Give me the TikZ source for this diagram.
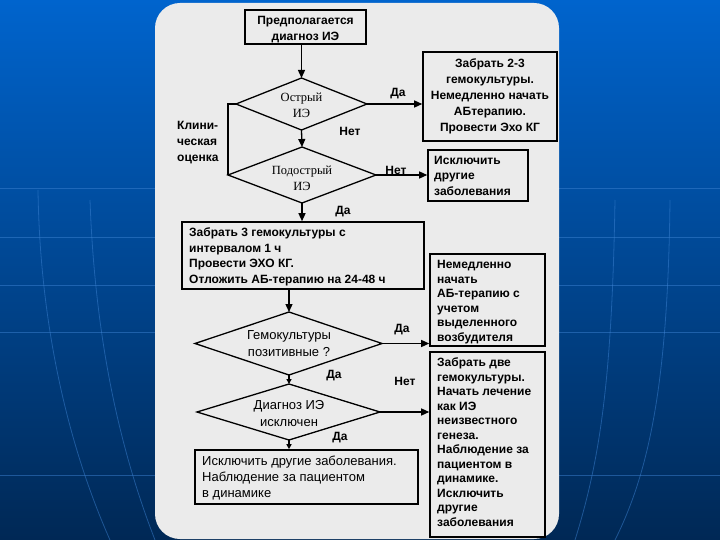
\documentclass[tikz,border=0pt]{standalone}
\usepackage{fontspec}
\setmainfont{Liberation Sans}
\newfontfamily\serifru{Liberation Serif}
\usetikzlibrary{arrows.meta}
\definecolor{bgtop}{RGB}{0,100,205}
\definecolor{bgbot}{RGB}{0,40,85}
\definecolor{panel}{RGB}{235,235,235}
\definecolor{faint}{RGB}{60,130,210}
\tikzset{
  boxc/.style={draw=black,line width=1.6pt,fill=panel,inner sep=0pt,align=center,
    font=\bfseries\fontsize{12}{16}\selectfont},
  boxl/.style={draw=black,line width=1.6pt,fill=panel,inner sep=0pt},
  txl/.style={anchor=west,align=left,inner sep=0pt},
  dia/.style={draw=black,line width=1.3pt},
  dtxt/.style={inner sep=0pt,align=center},
  arr/.style={line width=1.3pt,-{Triangle[length=8pt,width=7pt]}},
  arrs/.style={line width=1.3pt,-{Triangle[length=5pt,width=5pt]}},
  lab/.style={font=\bfseries\fontsize{12}{14}\selectfont,inner sep=0pt},
}
\begin{document}
\begin{tikzpicture}[x=1pt,y=-1pt]
\useasboundingbox (0,0) rectangle (720,540);
\shade[top color=bgtop,bottom color=bgbot] (0,0) rectangle (720,540);
\foreach \yy in {188,237,285,332,475}
  \draw[faint,opacity=0.5,line width=0.6pt] (0,\yy) -- (720,\yy);
\draw[faint,opacity=0.5,line width=0.8pt] (38,190) .. controls (40,330) and (70,450) .. (110,540);
\draw[faint,opacity=0.5,line width=0.8pt] (90,200) .. controls (95,340) and (120,450) .. (155,540);
\draw[faint,opacity=0.5,line width=0.8pt] (615,200) .. controls (612,380) and (600,460) .. (575,540);
\draw[faint,opacity=0.5,line width=0.8pt] (670,200) .. controls (668,380) and (650,470) .. (615,540);
\fill[panel,rounded corners=25pt] (155,3) rectangle (559,539);

% boxes
\node[boxl,minimum width=121pt,minimum height=34pt] (b1) at (305.5,27) {};
\node[dtxt,font=\bfseries\fontsize{12}{16}\selectfont] (t1) at (305.5,29.5)
  {Предполагается\\диагноз ИЭ};
\node[boxc,minimum width=134pt,minimum height=89pt] (b2) at (490,96.5)
  {Забрать 2-3\\гемокультуры.\\Немедленно начать\\АБтерапию.\\Провести Эхо КГ};
\node[boxl,minimum width=100pt,minimum height=51pt] (b3) at (478,175.5) {};
\node[txl,font=\bfseries\fontsize{12}{15.5}\selectfont] (t3) at (434,175.5)
  {Исключить\\другие\\заболевания};
\node[boxl,minimum width=242pt,minimum height=67pt] (b4) at (303,255.5) {};
\node[txl,font=\bfseries\fontsize{12}{15.6}\selectfont] (t4) at (189,257)
  {Забрать 3 гемокультуры с\\интервалом 1 ч\\Провести ЭХО КГ.\\Отложить АБ-терапию на 24-48 ч};
\node[boxl,minimum width=115pt,minimum height=92pt] (b5) at (487.5,300) {};
\node[txl,font=\bfseries\fontsize{12}{14.5}\selectfont] (t5) at (437,302)
  {Немедленно\\начать\\АБ-терапию с\\учетом\\выделенного\\возбудителя};
\node[boxl,minimum width=115pt,minimum height=185pt] (b6) at (487.5,444.5) {};
\node[txl,font=\bfseries\fontsize{12}{14.5}\selectfont] (t6) at (437,442)
  {Забрать две\\гемокультуры.\\Начать лечение\\как ИЭ\\неизвестного\\генеза.\\Наблюдение за\\пациентом в\\динамике.\\Исключить\\другие\\заболевания};
\node[boxl,minimum width=223pt,minimum height=54pt] (b7) at (306.5,477) {};
\node[txl,font=\fontsize{13}{16}\selectfont] (t7) at (202,478)
  {Исключить другие заболевания.\\Наблюдение за пациентом\\в динамике};

% diamonds
\coordinate (d1n) at (301.5,78);  \coordinate (d1s) at (301.5,130);
\coordinate (d1w) at (236,104);   \coordinate (d1e) at (367,104);
\draw[dia] (d1n) -- (d1e) -- (d1s) -- (d1w) -- cycle;
\node[dtxt,font=\serifru\fontsize{12.5}{16}\selectfont] (d1) at (301.5,105) {Острый\\ИЭ};

\coordinate (d2n) at (302,147);  \coordinate (d2s) at (302,203);
\coordinate (d2w) at (228,175);  \coordinate (d2e) at (376,175);
\draw[dia] (d2n) -- (d2e) -- (d2s) -- (d2w) -- cycle;
\node[dtxt,font=\serifru\fontsize{12.5}{16}\selectfont] (d2) at (302,178) {Подострый\\ИЭ};

\coordinate (d3n) at (289,312);  \coordinate (d3s) at (289,375);
\coordinate (d3w) at (195,343.5);  \coordinate (d3e) at (382,343.5);
\draw[dia] (d3n) -- (d3e) -- (d3s) -- (d3w) -- cycle;
\node[dtxt,font=\fontsize{13}{17}\selectfont] (d3) at (289,344) {Гемокультуры\\позитивные ?};

\coordinate (d4n) at (289,384);  \coordinate (d4s) at (289,440);
\coordinate (d4w) at (197,412);  \coordinate (d4e) at (380,412);
\draw[dia] (d4n) -- (d4e) -- (d4s) -- (d4w) -- cycle;
\node[dtxt,font=\fontsize{13}{17}\selectfont] (d4) at (289,414) {Диагноз ИЭ\\исключен};

% connectors
\draw[arr] (b1.south -| d1n) -- (d1n);
\draw[arr] (d1e) -- (d1e -| b2.west);
\draw[arr] (d1s) -- (d2n);
\draw[arr] (d2e) -- (d2e -| b3.west);
\draw[arr] (d2s) -- (d2s |- b4.north);
\draw[arr] (d3n |- b4.south) -- (d3n);
\draw[arr] (d3e) -- (d3e -| b5.west);
\draw[arrs] (d3s) -- (d4n);
\draw[arr] (d4e) -- (d4e -| b6.west);
\draw[arrs] (d4s) -- (d4s |- b7.north);
\coordinate (cl) at (d2w |- d1w);
\draw[line width=1.3pt] (d1w) -- (cl) -- (d2w);

% labels
\node[lab] (l1) at (398,94) {Да};
\node[lab] (l2) at (350,131) {Нет};
\node[lab] (l3) at (396,170) {Нет};
\node[lab] (l4) at (343,212) {Да};
\node[lab] (l5) at (402,330) {Да};
\node[lab] (l6) at (334,376) {Да};
\node[lab] (l7) at (405,381) {Нет};
\node[lab] (l8) at (340,438) {Да};
\node[lab,anchor=west,align=left,font=\bfseries\fontsize{12}{16}\selectfont] (cl1) at (177,143)
  {Клини-\\ческая\\оценка};
\end{tikzpicture}
\end{document}
